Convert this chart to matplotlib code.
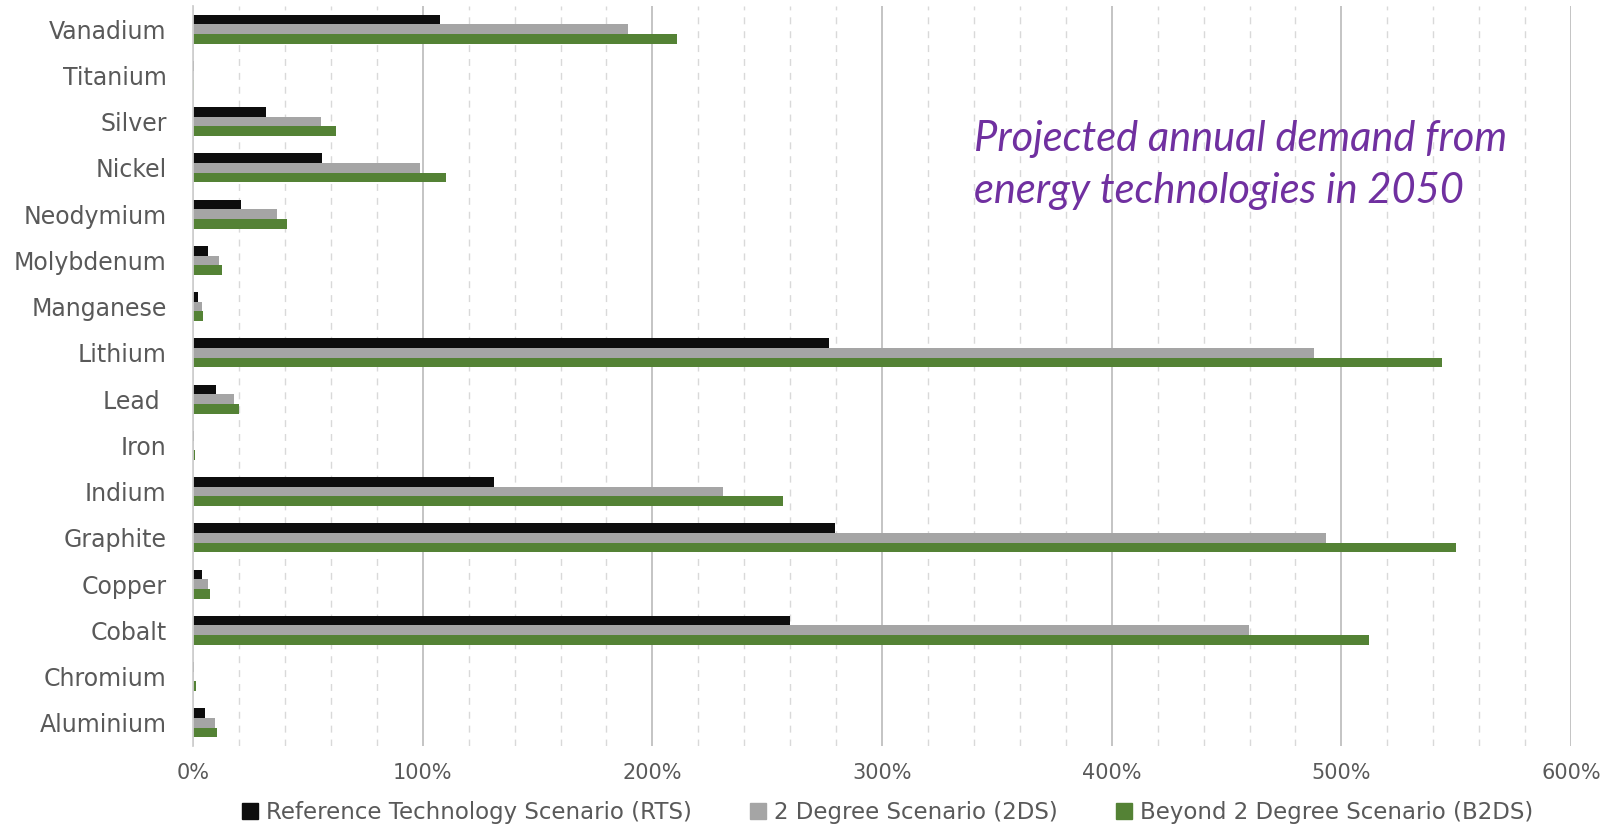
import matplotlib
matplotlib.use("Agg")
import matplotlib.pyplot as plt
import numpy as np
from matplotlib.ticker import MultipleLocator, FuncFormatter
from matplotlib.lines import Line2D

# Minerals, listed bottom to top
minerals = ["Aluminium", "Chromium", "Cobalt", "Copper", "Graphite", "Indium",
            "Iron", "Lead ", "Lithium", "Manganese", "Molybdenum", "Neodymium",
            "Nickel", "Silver", "Titanium", "Vanadium"]

# Projected 2050 demand from energy technologies, % of current production
rts = [5.4, 0.3, 260.0, 3.9, 279.6, 131.0, 0.3, 10.2, 276.8, 2.2, 6.4, 21.0,
       56.2, 31.9, 0.3, 107.4]
two_ds = [9.5, 0.5, 459.8, 6.7, 493.2, 230.7, 0.5, 18.0, 488.1, 3.9, 11.2, 36.7,
          99.0, 55.9, 0.4, 189.3]
b2ds = [10.6, 1.3, 512.0, 7.6, 549.7, 257.0, 0.9, 20.0, 543.9, 4.5, 12.5, 41.0,
        110.3, 62.3, 0.4, 210.7]

series_names = ["Reference Technology Scenario (RTS)",
                "2 Degree Scenario (2DS)",
                "Beyond 2 Degree Scenario (B2DS)"]
series_colors = ["#0d0d0d", "#a5a5a5", "#548235"]

title_text = "Projected annual demand from\nenergy technologies in 2050"

fig = plt.figure(figsize=(16.1, 8.26), dpi=100)
ax = fig.add_axes([0.1199, 0.0969, 0.8559, 0.8958])

y = np.arange(len(minerals))
h = 0.21
for offset, vals, col in zip([h, 0, -h], [rts, two_ds, b2ds], series_colors):
    ax.barh(y + offset, vals, height=h, color=col, edgecolor="none", zorder=3)

ax.set_xlim(0, 600)
ax.set_ylim(-0.5, len(minerals) - 0.5)
ax.set_yticks(y)
ax.set_yticklabels(minerals)

ax.xaxis.set_major_locator(MultipleLocator(100))
ax.xaxis.set_minor_locator(MultipleLocator(20))
ax.xaxis.set_major_formatter(FuncFormatter(lambda v, p: f"{v:.0f}%"))
ax.grid(axis="x", which="major", color="#bfbfbf", linewidth=1.3, zorder=1)
ax.grid(axis="x", which="minor", color="#d9d9d9", linewidth=1.0,
        linestyle=(0, (5, 5)), zorder=1)

for s in ["top", "right", "bottom"]:
    ax.spines[s].set_visible(False)
ax.spines["left"].set_color("#d0d0d0")
ax.spines["left"].set_linewidth(1.3)
ax.spines["left"].set_zorder(4)

ax.tick_params(axis="y", length=0, pad=19, labelsize=17, labelcolor="#595959")
ax.tick_params(axis="x", which="both", length=0, pad=12, labelsize=15,
               labelcolor="#595959")

ax.text(0.567, 0.785, title_text, transform=ax.transAxes, color="#7030a0",
        fontsize=30, fontstyle="italic", family="Lato", ha="left", va="center",
        linespacing=1.45, zorder=5)

handles = [Line2D([], [], linestyle="none", marker="s", markersize=11,
                  markerfacecolor=c, markeredgecolor=c) for c in series_colors]
fig.legend(handles, series_names, loc="center", bbox_to_anchor=(0.551, 0.016),
           ncol=3, frameon=False, fontsize=16.5, handletextpad=0.3,
           columnspacing=2.5, handlelength=0.8, labelcolor="#595959")

fig.savefig("out.png", dpi=100)
